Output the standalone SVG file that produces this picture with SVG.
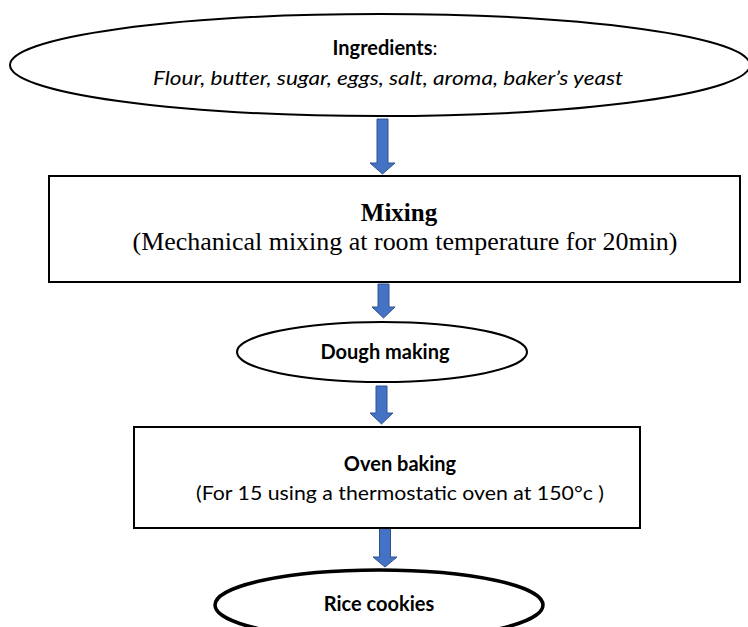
<svg xmlns="http://www.w3.org/2000/svg" width="748" height="627" viewBox="0 0 748 627">
<style>
.shape{fill:#fff;stroke:#000;stroke-width:2}
.thick{stroke-width:3.5}
.arrow{fill:#4472C4;stroke:#2F528F;stroke-width:1}
.cal{font-family:Lato,"Liberation Sans",sans-serif;fill:#000;text-anchor:middle;font-size:20px}
.tnr{font-family:"Liberation Serif",serif;fill:#000;text-anchor:middle;font-size:25px}
</style>
<rect width="748" height="627" fill="#fff"/>
<g id="connectors">
<path class="arrow" d="M377,119 H388 V163 H395 L382.5,174 L370,163 H377 Z"/>
<path class="arrow" d="M378,284 H389 V307 H395 L383.5,318 L372,307 H378 Z"/>
<path class="arrow" d="M376,386 H387 V413 H393 L381.5,424 L370,413 H376 Z"/>
<path class="arrow" d="M379.5,528 H390.5 V557 H397 L385,567 L373,557 H379.5 Z"/>
</g>
<g id="ingredients">
<ellipse class="shape" cx="380" cy="65" rx="370" ry="51"/>
<text class="cal" x="385" y="55"><tspan font-weight="bold">Ingredients</tspan>:</text>
<text class="cal" x="388" y="85" font-style="italic" textLength="470" lengthAdjust="spacingAndGlyphs">Flour, butter, sugar, eggs, salt, aroma, baker’s yeast</text>
</g>
<g id="mixing">
<rect class="shape" x="49" y="176" width="691" height="106"/>
<text class="tnr" x="399" y="221" font-weight="bold">Mixing</text>
<text class="tnr" x="405" y="250" textLength="545" lengthAdjust="spacingAndGlyphs">(Mechanical mixing at room temperature for 20min)</text>
</g>
<g id="dough">
<ellipse class="shape" cx="382" cy="352" rx="145" ry="30"/>
<text class="cal" x="385" y="359" font-weight="bold">Dough making</text>
</g>
<g id="oven">
<rect class="shape" x="134" y="427" width="506" height="101"/>
<text class="cal" x="400" y="471" font-weight="bold">Oven baking</text>
<text class="cal" x="400" y="500" textLength="408" lengthAdjust="spacingAndGlyphs">(For 15 using a thermostatic oven at 150°c )</text>
</g>
<g id="rice">
<ellipse class="shape thick" cx="379" cy="605" rx="164" ry="35"/>
<text class="cal" x="379" y="611" font-weight="bold">Rice cookies</text>
</g>
</svg>
